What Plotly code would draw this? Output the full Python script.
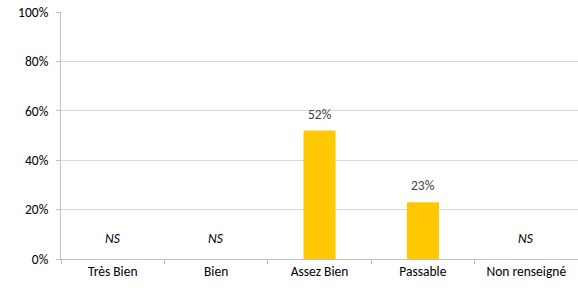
import plotly.graph_objects as go

categories = ["Très Bien", "Bien", "Assez Bien", "Passable", "Non renseigné"]
values = [None, None, 0.52, 0.23, None]
ns_label = "NS"
ns_level = 0.085
y_ticks = [0, 0.2, 0.4, 0.6, 0.8, 1.0]
y_tick_labels = ["0%", "20%", "40%", "60%", "80%", "100%"]

font_family = "Carlito, Calibri, Lato, 'Open Sans', sans-serif"
fs = 13.5

bar_vals = [v if v is not None else 0 for v in values]

fig = go.Figure()
fig.add_trace(go.Bar(
    x=categories, y=bar_vals,
    marker=dict(color="#FFC800", line=dict(width=0)),
    width=0.31, hoverinfo="skip",
))

for c, v in zip(categories, values):
    if v is not None:
        fig.add_annotation(x=c, y=v, text=f"{round(v*100)}%", showarrow=False,
                           yanchor="bottom", yshift=6,
                           font=dict(size=fs, color="#404040", family=font_family))
    else:
        fig.add_annotation(x=c, y=ns_level, text=f"<i>{ns_label}</i>", showarrow=False,
                           font=dict(size=fs, color="#000000", family=font_family))

fig.update_layout(
    width=578, height=288,
    margin=dict(l=61, r=0, t=12, b=29),
    paper_bgcolor="white", plot_bgcolor="white",
    showlegend=False,
    font=dict(family=font_family, size=fs, color="#000000"),
    xaxis=dict(
        automargin=False,
        showline=True, linecolor="#BFBFBF", linewidth=1,
        ticks="outside", tickson="boundaries", ticklen=4, tickcolor="#BFBFBF",
        showgrid=False, tickfont=dict(size=fs, color="#000000", family=font_family),
        range=[-0.5, 4.5],
    ),
    yaxis=dict(
        automargin=False,
        range=[0, 1.0], tickvals=y_ticks, ticktext=y_tick_labels,
        showgrid=True, gridcolor="#D9D9D9", gridwidth=1,
        showline=True, linecolor="#BFBFBF", linewidth=1,
        ticks="outside", ticklen=4, tickcolor="#BFBFBF", ticklabelstandoff=5,
        zeroline=False, tickfont=dict(size=fs, color="#000000", family=font_family),
    ),
)

fig.write_html(
    "out.html",
    config={"displayModeBar": False},
    post_script="document.body.style.margin='0';document.body.style.overflow='hidden';",
)
